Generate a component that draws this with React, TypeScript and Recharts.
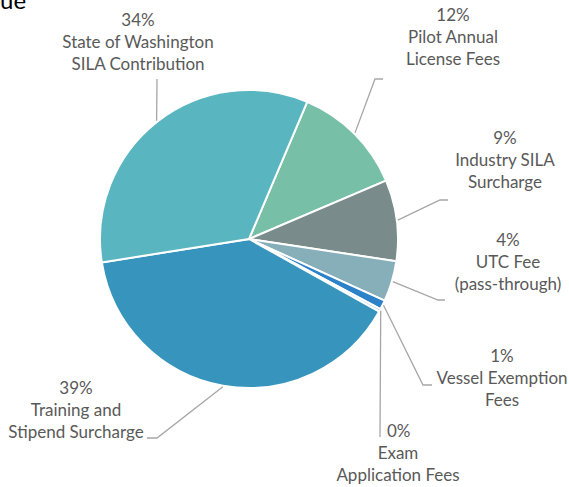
import React from 'react';
import { PieChart, Pie, Cell } from 'recharts';

const CATEGORIES = [
  ['Pilot Annual', 'License Fees'],
  ['Industry SILA', 'Surcharge'],
  ['UTC Fee', '(pass-through)'],
  ['Vessel Exemption', 'Fees'],
  ['Exam', 'Application Fees'],
  ['Training and', 'Stipend Surcharge'],
  ['State of Washington', 'SILA Contribution'],
];
const SHARES = [12.2, 8.8, 4.4, 1.0, 0.3, 39.4, 33.9];
const COLORS = ['#77bfa7', '#7a8b8b', '#86afba', '#2b82c9', '#a8d0e2', '#3794bc', '#59b6c0'];

const TOTAL = SHARES.reduce((a, b) => a + b, 0);
const data = CATEGORIES.map((lines, i) => ({ name: lines.join(' '), lines, value: SHARES[i] }));

// leader line bends and label anchors, per slice
const LAYOUT = [
  { pts: [[375, 79], [383, 79]], x: 453, y: 21, anchor: 'middle' },
  { pts: [[440, 200], [448, 200]], x: 505, y: 144, anchor: 'middle' },
  { pts: [[438, 300], [445, 300]], x: 508, y: 246, anchor: 'middle' },
  { pts: [[423, 385], [432, 385]], x: 502, y: 362, anchor: 'middle' },
  { pts: [[380, 437]], x: 398, y: 437, anchor: 'middle', firstX: 387 },
  { pts: [[157, 438], [147, 438]], x: 76, y: 394, anchor: 'middle' },
  { pts: [[157, 79]], x: 138, y: 26, anchor: 'middle' },
];

const RAD = Math.PI / 180;
const FONT = 'Lato, "Liberation Sans", sans-serif';

const renderLabel = (props: any) => {
  const { cx, cy, midAngle, outerRadius, index } = props;
  const lay = LAYOUT[index];
  const sx = cx + (outerRadius + 1) * Math.cos(-midAngle * RAD);
  const sy = cy + (outerRadius + 1) * Math.sin(-midAngle * RAD);
  const pts = [[sx, sy], ...lay.pts].map((p) => p.join(',')).join(' ');
  const pct = `${Math.round((SHARES[index] / TOTAL) * 100)}%`;
  const rows = [pct, ...CATEGORIES[index]];
  return (
    <g key={`lbl-${index}`}>
      <polyline points={pts} fill="none" stroke="#a6a6a6" strokeWidth={1.3} />
      {rows.map((t, j) => (
        <text
          key={j}
          x={j === 0 && lay.firstX ? lay.firstX : lay.x}
          y={lay.y + j * 22}
          textAnchor={j === 0 && lay.firstX ? 'start' : lay.anchor}
          fill="#595959"
          fontSize={17}
          fontFamily={FONT}
        >
          {t}
        </text>
      ))}
    </g>
  );
};

export default function App() {
  return (
    <div style={{ position: 'absolute', left: 0, top: 0, width: 569, height: 487, background: '#fff' }}>
      <PieChart width={569} height={487} margin={{ top: 0, right: 0, bottom: 0, left: 0 }}>
        <text x={0} y={9} fontSize={24} fontFamily={FONT} fill="#000">ue</text>
        <Pie
          data={data}
          dataKey="value"
          nameKey="name"
          cx={249}
          cy={239}
          outerRadius={149}
          startAngle={67}
          endAngle={-293}
          stroke="#ffffff"
          strokeWidth={2}
          label={renderLabel}
          labelLine={false}
          isAnimationActive={false}
        >
          {data.map((d, i) => (
            <Cell key={d.name} fill={COLORS[i]} />
          ))}
        </Pie>
      </PieChart>
    </div>
  );
}
